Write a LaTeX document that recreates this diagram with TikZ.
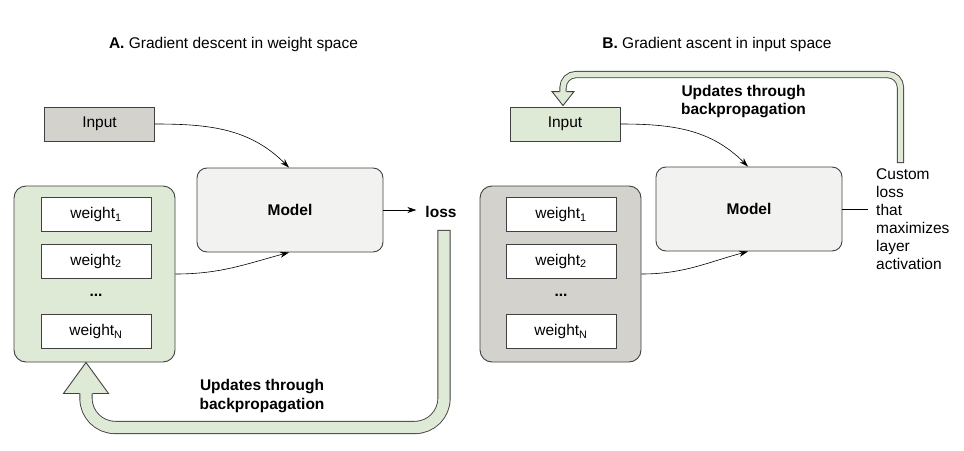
\documentclass[tikz,border=0pt]{standalone}
\usepackage{fontspec}
\setmainfont{Liberation Sans}
\usetikzlibrary{arrows.meta}

\definecolor{leaf}{RGB}{223,234,214}
\definecolor{stone}{RGB}{211,210,205}
\definecolor{paper}{RGB}{242,242,240}
\definecolor{ink}{RGB}{64,64,64}

\begin{document}
\begin{tikzpicture}[x=1pt,y=-1pt,
  font=\fontsize{15.5}{18}\selectfont,
  box/.style={draw=ink,line width=0.9pt,minimum width=110pt,minimum height=34pt,inner sep=0pt},
  model/.style={draw=ink,line width=0.9pt,fill=paper,rounded corners=10pt,minimum width=186pt,minimum height=84pt},
  bank/.style={draw=ink,line width=0.9pt,rounded corners=12pt,minimum width=161pt,minimum height=176pt},
  note/.style={align=center,font=\fontsize{15.5}{18.5}\selectfont\bfseries},
  feed/.style={-{Stealth[length=9pt,width=6pt]},line width=0.6pt},
  fat/.style={draw=ink,line width=0.9pt,double=leaf,line cap=rect},
  head/.style={draw=ink,line width=0.9pt,line join=miter},
]
\useasboundingbox (0,0) rectangle (964,450);

% A. gradient descent in weight space
\node[anchor=base] (titleA) at (233.5,48) {\textbf{A.} Gradient descent in weight space};

\node[box,fill=stone] (inA) at (99.5,124) {Input};
\node[model] (modelA) at (290,210) {\textbf{Model}};
\node[inner xsep=9pt] (lossA) at (441,212) {\textbf{loss}};

\node[bank,fill=leaf] (wA) at (94.5,274) {};
\node[box,fill=white] (w1A) at (96,214.5) {weight\textsubscript{1}};
\node[box,fill=white] (w2A) at (96,261) {weight\textsubscript{2}};
\node (dotsA) at (96,295) {\textbf{...}};
\node[box,fill=white] (wNA) at (96,331.5) {weight\textsubscript{N}};

\draw[feed] (inA.east) to[out=0,in=135] ([xshift=-1pt]modelA.north);
\draw[feed] (wA.east) to[out=0,in=-165] ([xshift=-1pt]modelA.south);
\draw[feed] (modelA.east) -- (lossA.west |- modelA.east);

% big arrow back to the weights
\coordinate (gradA) at (444,236.5);
\coordinate (tipA) at ([xshift=-8.5pt]wA.south);
\draw[fat,double distance=11.4pt,rounded corners=29pt] (gradA) |- ([yshift=-65pt]tipA) -- ([yshift=-31pt]tipA);
\fill[leaf] (tipA) -- ++(-22.5,31) -- ++(45,0) -- cycle;
\draw[head] ([xshift=-6.5pt,yshift=-31pt]tipA) -- ++(-16,0) -- (tipA) -- ++(22.5,31) -- ++(-16,0);
\node[note] (noteA) at (262,396) {Updates through\\backpropagation};


% B. gradient ascent in input space
\node[anchor=base] (titleB) at (717,48) {\textbf{B.} Gradient ascent in input space};

\node[box,fill=leaf] (inB) at (565,124) {Input};
\node[model] (modelB) at (749,209) {\textbf{Model}};
\node[anchor=west,align=left,inner xsep=8pt,inner ysep=0pt] (lossB) at (868,219)
  {Custom\\loss\\that\\maximizes\\layer\\activation};

\node[bank,fill=stone] (wB) at (560.5,274) {};
\node[box,fill=white] (w1B) at (561,214.5) {weight\textsubscript{1}};
\node[box,fill=white] (w2B) at (561,261) {weight\textsubscript{2}};
\node (dotsB) at (561,295) {\textbf{...}};
\node[box,fill=white] (wNB) at (561,331.5) {weight\textsubscript{N}};

\draw[feed] (inB.east) to[out=0,in=135] ([xshift=-1pt]modelB.north);
\draw[feed] (wB.east) to[out=0,in=-165] ([xshift=-1pt]modelB.south);
\draw[line width=0.6pt] (modelB.east) -- (lossB.west |- modelB.east);

% big arrow back to the input
\coordinate (gradB) at (900.5,159.5);
\coordinate (tipB) at ([xshift=-2pt,yshift=1pt]inB.north);
\draw[fat,double distance=5.4pt,rounded corners=13pt] (gradB) |- ([yshift=31pt]tipB) -- ([yshift=14pt]tipB);
\fill[leaf] (tipB) -- ++(-11,-14) -- ++(22,0) -- cycle;
\draw[head] ([xshift=-3.5pt,yshift=14pt]tipB) -- ++(-7.5,0) -- (tipB) -- ++(11,-14) -- ++(-7.5,0);
\node[note] (noteB) at (743.5,101.5) {Updates through\\backpropagation};

\end{tikzpicture}
\end{document}
